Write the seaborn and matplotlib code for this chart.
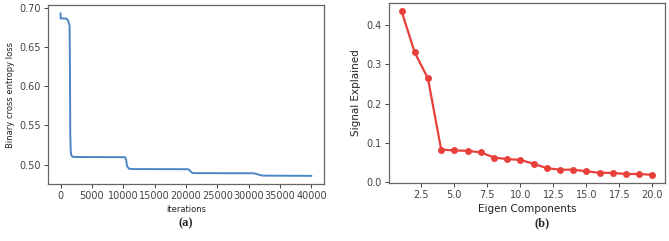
import numpy as np
import pandas as pd
import matplotlib
matplotlib.use('Agg')
import matplotlib.pyplot as plt
import seaborn as sns

# ---------- dados ----------
# (a) curva de perda: pontos de quebra (iteração, perda)
iteracoes = [0, 30, 80, 960, 1200, 1440, 1500, 1550, 1620, 1700, 1900, 2300,
             10300, 10450, 10600, 10900, 11300,
             20350, 20600, 20900, 21200,
             30800, 31300, 31800, 32300, 40000]
perda = [0.6936, 0.6870, 0.6868, 0.6866, 0.6840, 0.6775, 0.6200, 0.5400, 0.5180, 0.5120, 0.5100, 0.5096,
         0.5094, 0.5060, 0.4980, 0.4948, 0.4942,
         0.4940, 0.4925, 0.4898, 0.4890,
         0.4888, 0.4878, 0.4865, 0.4858, 0.4855]

# (b) sinal explicado por componente
componentes = list(range(1, 21))
sinal = [0.435, 0.330, 0.264, 0.083, 0.081, 0.080, 0.076, 0.063, 0.059, 0.057,
         0.047, 0.036, 0.032, 0.032, 0.028, 0.024, 0.024, 0.021, 0.021, 0.019]

df_loss = pd.DataFrame({'iterations': iteracoes, 'loss': perda})
df_pca = pd.DataFrame({'comp': componentes, 'sinal': sinal})

sns.set_style('white')
plt.rcParams['font.family'] = ['DejaVu Sans']

cor_spine = '#666666'
cor_tick = '#444444'

fig = plt.figure(figsize=(6.69, 2.41), dpi=100)
ax1 = fig.add_axes([48 / 669, 1 - 184 / 241, 276 / 669, 179 / 241])
ax2 = fig.add_axes([389 / 669, 1 - 183 / 241, 276 / 669, 180 / 241])

# ---------- (a) ----------
sns.lineplot(data=df_loss, x='iterations', y='loss', ax=ax1, color='#4a86c5', linewidth=1.4)
ax1.set_xticks([0, 5000, 10000, 15000, 20000, 25000, 30000, 35000, 40000])
ax1.set_yticks([0.50, 0.55, 0.60, 0.65, 0.70])
ax1.set_yticklabels(['0.50', '0.55', '0.60', '0.65', '0.70'])
ax1.set_xlabel('iterations', fontsize=6, color='#222222', labelpad=3)
ax1.set_ylabel('Binary cross entropy loss', fontsize=6, color='#222222', labelpad=3)

# ---------- (b) ----------
sns.lineplot(data=df_pca, x='comp', y='sinal', ax=ax2, color='#e8403a', linewidth=1.6,
             marker='o', markersize=5, markeredgewidth=0)
ax2.set_xticks([2.5, 5.0, 7.5, 10.0, 12.5, 15.0, 17.5, 20.0])
ax2.set_yticks([0.0, 0.1, 0.2, 0.3, 0.4])
ax2.set_xlabel('Eigen Components', fontsize=7.5, color='#222222', labelpad=3)
ax2.set_ylabel('Signal Explained', fontsize=7.5, color='#222222', labelpad=4)

for ax in (ax1, ax2):
    for s in ax.spines.values():
        s.set_color(cor_spine)
        s.set_linewidth(0.9)
    ax.tick_params(axis='both', labelsize=7, colors=cor_tick, length=3, width=0.7,
                   direction='out', bottom=True, left=True, pad=2)
    ax.grid(False)

fig.text(186 / 669, 1 - 223 / 241, '(a)', ha='center', va='center', fontsize=9,
         fontweight='bold', family='Liberation Serif')
fig.text(542 / 669, 1 - 223 / 241, '(b)', ha='center', va='center', fontsize=9,
         fontweight='bold', family='Liberation Serif')

fig.savefig('out.png', dpi=100)
plt.close()
